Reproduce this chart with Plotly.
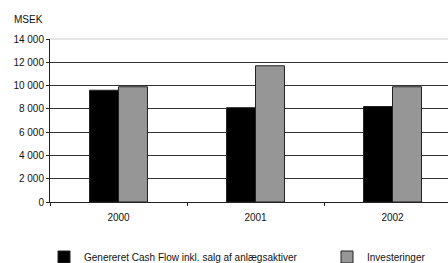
import plotly.graph_objects as go

years = ["2000", "2001", "2002"]
cash_flow = [9600, 8100, 8200]
investeringer = [9900, 11700, 9900]
series_names = ["Genereret Cash Flow inkl. salg af anlægsaktiver", "Investeringer"]
y_ticks = [0, 2000, 4000, 6000, 8000, 10000, 12000, 14000]

FONT = "Liberation Sans"
W, H = 448, 263
fig = go.Figure()
fig.add_trace(go.Bar(x=years, y=cash_flow, name=series_names[0], legend="legend",
                     marker=dict(color="#000000", line=dict(color="#222222", width=1))))
fig.add_trace(go.Bar(x=years, y=investeringer, name=series_names[1], legend="legend2",
                     marker=dict(color="#969696", line=dict(color="#222222", width=1))))

leg_common = dict(xref="container", yref="container", xanchor="left", yanchor="middle",
                  y=1 - 257 / H, font=dict(size=10), itemwidth=30,
                  bgcolor="rgba(0,0,0,0)", borderwidth=0)

fig.update_layout(
    width=W, height=H,
    margin=dict(l=50, r=0, t=39, b=61, autoexpand=False),
    paper_bgcolor="white", plot_bgcolor="white",
    barmode="group", bargap=0.577, bargroupgap=0,
    font=dict(family=FONT, size=10, color="#111111"),
    separators=", ",
    showlegend=True,
    legend=dict(x=44 / W, **leg_common),
    legend2=dict(x=327 / W, **leg_common),
    xaxis=dict(type="category", range=[-0.5, 2.405], showline=True, linecolor="#222222",
               linewidth=1, ticks="outside", tickson="boundaries", ticklen=3,
               tickcolor="#222222", showgrid=False, ticklabelstandoff=6, automargin=False),
    yaxis=dict(range=[0, 14000], tickvals=y_ticks, tickformat=",d", showline=True,
               linecolor="#222222", linewidth=1, ticks="outside", ticklen=3,
               tickcolor="#222222", showgrid=True, gridcolor="#333333", gridwidth=1,
               zeroline=False, automargin=False),
    shapes=[dict(type="line", xref="paper", yref="paper", x0=0, x1=1, y0=1, y1=1,
                 line=dict(color="#cccccc", width=1), layer="between")],
    annotations=[dict(text="MSEK", xref="paper", yref="paper", x=-38/398, y=1+20/163,
                      xanchor="left", yanchor="middle", showarrow=False,
                      font=dict(size=10))],
)

fig.write_html("out.html", config={"displayModeBar": False},
               post_script="document.body.style.margin='0';document.body.style.overflow='hidden';")
